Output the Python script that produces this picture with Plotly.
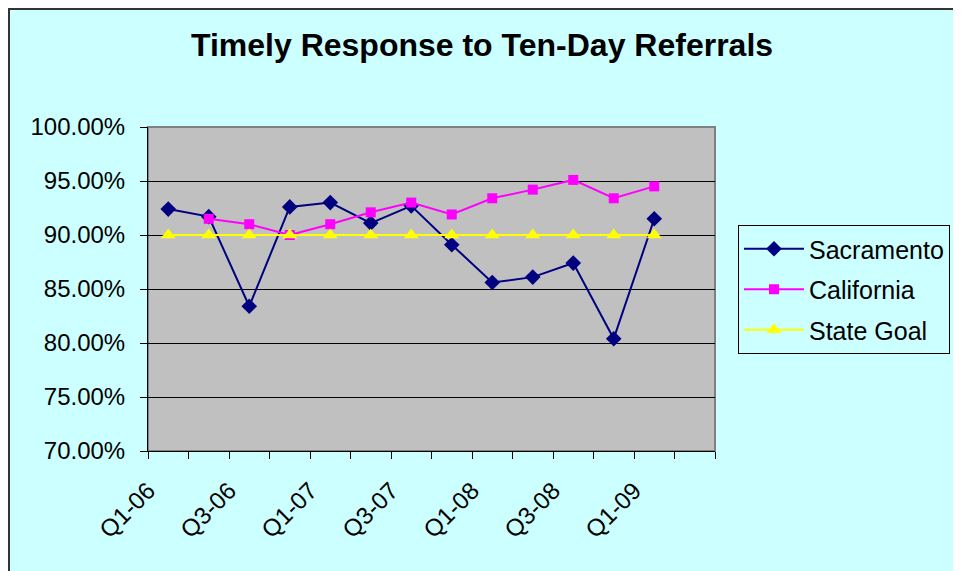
import plotly.graph_objects as go

# quarters shown on the category axis (last slot is empty)
quarters = ["Q1-06", "Q2-06", "Q3-06", "Q4-06", "Q1-07", "Q2-07", "Q3-07",
            "Q4-07", "Q1-08", "Q2-08", "Q3-08", "Q4-08", "Q1-09", "Q2-09"]
tick_labels = ["Q1-06", "Q3-06", "Q1-07", "Q3-07", "Q1-08", "Q3-08", "Q1-09"]

sacramento = [0.924, 0.917, 0.834, 0.926, 0.930, 0.911, 0.927,
              0.891, 0.856, 0.861, 0.874, 0.804, 0.915]
california = [None, 0.915, 0.910, 0.900, 0.910, 0.921, 0.930,
              0.919, 0.934, 0.942, 0.951, 0.934, 0.945]
state_goal = [0.90] * 13

x = list(range(len(sacramento)))
font = "Liberation Sans, Arial, sans-serif"

fig = go.Figure()
fig.add_trace(go.Scatter(x=x, y=sacramento, name="Sacramento", mode="lines+markers",
                         line=dict(color="#000080", width=2),
                         marker=dict(symbol="diamond", size=12, color="#000080"),
                         legendgroup="a"))
fig.add_trace(go.Scatter(x=x, y=california, name="California", mode="lines+markers",
                         line=dict(color="#FF00FF", width=2),
                         marker=dict(symbol="square", size=10, color="#FF00FF"),
                         legendgroup="b"))
fig.add_trace(go.Scatter(x=x, y=state_goal, name="State Goal", mode="lines+markers",
                         line=dict(color="#FFFF00", width=2),
                         marker=dict(symbol="triangle-up", size=13, color="#FFFF00"),
                         legendgroup="c"))

# page body has an 8px margin, so the figure is shrunk by that much
W, H = 953, 563
L, R, T, B = 140, 246, 119, 120
pw, ph = W - L - R, H - T - B

# plot area border
fig.add_shape(type="rect", xref="paper", yref="paper", x0=0, y0=0, x1=1, y1=1,
              line=dict(color="#808080", width=2), layer="below")

# outer chart border (only left and top edges fall inside the page)
fig.add_shape(type="rect", xref="paper", yref="paper",
              x0=-(L - 1) / pw, x1=1 + (R + 20) / pw,
              y0=-(B + 20) / ph, y1=1 + (T - 1) / ph,
              line=dict(color="#333333", width=2))

fig.update_xaxes(range=[-0.5, len(quarters) - 0.5],
                 tickvals=[quarters.index(q) for q in tick_labels], ticktext=tick_labels,
                 tickangle=-45, ticks="", showgrid=False, zeroline=False,
                 showline=True, linecolor="black", linewidth=1,
                 ticklabelstandoff=15, ticklabelshift=-20,
                 tickfont=dict(family=font, size=24, color="black"),
                 minor=dict(tickvals=[i - 0.5 for i in range(len(quarters) + 1)],
                            ticks="outside", ticklen=7, tickcolor="black", showgrid=False))
fig.update_yaxes(range=[0.70, 1.00], dtick=0.05, tickformat=".2%",
                 ticks="outside", ticklen=7, tickcolor="black",
                 showgrid=True, gridcolor="black", gridwidth=1, zeroline=False,
                 showline=True, linecolor="black", linewidth=1,
                 ticklabelstandoff=10,
                 tickfont=dict(family=font, size=24, color="black"))

fig.update_layout(
    width=W, height=H,
    margin=dict(l=L, r=R, t=T, b=B, autoexpand=False),
    paper_bgcolor="#CCFFFF", plot_bgcolor="#C0C0C0",
    title=dict(text="<b>Timely Response to Ten-Day Referrals</b>",
               x=(482 - 8) / W, xanchor="center", y=1 - (45 - 8) / H, yanchor="middle",
               font=dict(family=font, size=32, color="black")),
    showlegend=True,
    legend=dict(x=(738 - 148) / pw, y=(451 - 225) / ph, xanchor="left", yanchor="top",
                bgcolor="#CCFFFF", bordercolor="black", borderwidth=1,
                font=dict(family=font, size=25, color="black"),
                tracegroupgap=5, itemwidth=60),
)

fig.write_html("out.html")
